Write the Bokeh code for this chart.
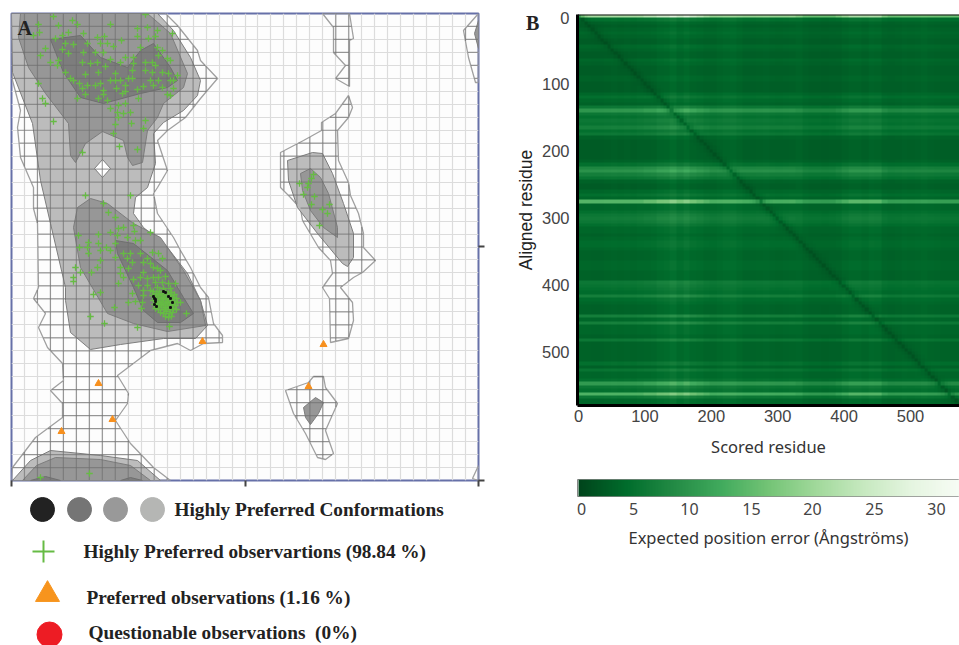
import numpy as np
from bokeh.embed import file_html
from bokeh.resources import INLINE
from bokeh.layouts import row, column
from bokeh.models import Div, FixedTicker, LinearColorMapper, Span, Range1d
from bokeh.palettes import Greens256
from bokeh.plotting import figure
from bokeh.core.properties import value

# ---------- Panel A: contours (plot units, no printed scale) ----------
outer_main = [(165,13),(177,25),(197,50),(200,60),(217,78),(200,98),(185,117),(167,130),(157,140),(167,170),(157,187),(153,193),(157,213),(173,237),(180,250),(190,267),(200,287),(208,297),(213,323),(222,335),(222,342),(203,343),(190,350),(177,343),(150,350),(117,375),(128,393),(127,403),(115,420),(130,443),(153,467),(170,480),(11,480),(12,467),(35,437),(62,417),(62,403),(50,390),(63,380),(62,363),(47,347),(38,327),(45,313),(33,298),(38,287),(37,223),(33,208),(33,187),(20,157),(17,127),(20,110),(12,80),(11,13)]
outer_strip = [(322,13),(333,27),(333,52),(345,65),(335,78),(349,86),(349,40),(353,38),(349,13)]
outer_right = [(348,95),(352,107),(348,117),(337,130),(338,160),(348,182),(350,195),(358,213),(363,233),(363,247),(375,260),(362,272),(353,277),(340,287),(352,302),(353,320),(348,338),(330,342),(329,298),(322,287),(332,273),(330,260),(318,247),(302,220),(300,208),(290,197),(280,187),(280,152),(303,140),(321,130),(321,122),(335,113)]
outer_low = [(285,390),(308,382),(313,376),(323,376),(325,387),(337,403),(325,430),(333,453),(325,459),(317,457),(305,433),(293,413)]
outer_tr = [(478,13),(463,30),(468,57),(475,82),(478,82)]
outer_br = [(478,465),(472,478),(478,480)]
light_main = [(11,13),(157,13),(173,30),(190,57),(200,80),(197,95),(183,110),(163,122),(153,133),(155,163),(147,187),(135,197),(133,213),(143,227),(167,247),(187,273),(200,300),(207,325),(195,338),(163,338),(120,344),(90,349),(70,332),(65,300),(65,287),(50,223),(40,180),(32,123),(12,72)]
hole = [(102,159),(110,168),(102,177),(94,168)]
mid_top = [(20,13),(147,13),(170,33),(187,73),(183,87),(163,103),(157,117),(147,130),(142,162),(132,165),(127,157),(123,140),(102,131),(85,143),(75,162),(70,155),(68,123),(45,93),(28,67),(18,37)]
dark_top = [(50,39),(80,35),(100,57),(127,67),(140,50),(153,43),(170,67),(177,80),(167,87),(140,93),(103,103),(80,97),(63,72)]
mid_center = [(90,198),(107,203),(133,223),(160,237),(183,270),(200,300),(205,325),(167,331),(133,323),(107,313),(80,267),(73,227),(77,207)]
dark_center = [(115,240),(133,243),(167,270),(183,297),(193,313),(180,322),(157,322),(143,310),(133,287),(117,253)]
light_bottom = [(12,480),(30,460),(50,450),(100,455),(137,460),(160,480)]
mid_bottom = [(22,480),(36,465),(55,457),(100,459),(130,465),(150,480)]
dark_bottom = [(30,480),(45,476),(60,480)]
dark_bottom2 = [(120,480),(130,477),(142,480)]
light_right = [(287,160),(312,152),(322,153),(332,173),(343,203),(353,233),(353,257),(347,266),(342,263),(317,233),(297,207),(288,180)]
mid_right = [(300,173),(310,168),(320,177),(328,193),(337,227),(337,237),(323,227),(310,210),(302,190)]
mid_low = [(303,407),(315,397),(323,402),(318,413),(310,424),(305,417)]
mid_tr = [(478,20),(474,33),(478,48)]

green_top = [(53,16),(145,14),(72,20),(77,24),(38,24),(58,25),(110,24),(39,32),(33,35),(137,28),(147,27),(157,30),(172,33),(68,32),(83,33),(62,35),(55,38),(97,37),(104,36),(137,36),(155,36),(148,38),(121,40),(100,43),(107,43),(65,43),(73,44),(87,43),(45,48),(62,49),(113,46),(140,47),(157,47),(95,52),(103,52),(68,53),(83,52),(40,55),(162,50),(125,57),(133,57),(158,55),(167,58),(50,62),(58,60),(82,62),(90,63),(97,62),(110,59),(120,62),(133,63),(145,62),(152,62),(57,65),(105,66),(155,65),(170,60),(65,72),(98,72),(115,73),(132,70),(145,70),(152,72),(162,72),(168,73),(177,75),(85,74),(70,78),(73,80),(110,80),(115,80),(120,80),(128,78),(132,78),(150,80),(158,80),(170,80),(173,80),(38,83),(79,83),(87,85),(95,85),(100,83),(125,85),(153,85),(162,87),(173,88),(82,88),(103,90),(116,88),(125,91),(137,89),(143,86),(85,94),(103,94),(122,93),(167,94),(170,95),(42,98),(77,98),(98,98),(138,98),(45,103),(107,100),(118,105),(125,103),(110,108),(117,112),(130,112),(123,113),(118,117),(53,121),(145,120),(115,124),(131,123),(143,128),(113,133),(119,146),(137,149),(82,152),(85,195),(130,195)]
green_center = [(103,203),(108,212),(115,217),(123,227),(118,228),(133,225),(150,232),(134,231),(110,232),(78,235),(98,234),(117,235),(127,237),(135,240),(140,240),(88,242),(98,243),(115,243),(79,247),(87,247),(106,247),(110,250),(88,253),(100,250),(123,253),(130,253),(140,253),(152,252),(158,253),(115,257),(127,258),(147,258),(162,258),(100,260),(132,262),(143,262),(150,263),(75,267),(97,267),(120,267),(128,268),(80,272),(91,272),(120,273),(143,272),(153,267),(157,268),(160,270),(73,277),(73,281),(123,277),(133,279),(140,277),(147,278),(153,277),(158,277),(165,276),(118,283),(138,285),(147,285),(155,282),(162,282),(168,283),(175,283),(143,290),(150,290),(157,287),(163,288),(170,288),(100,292),(93,294),(132,293),(143,295),(135,301),(128,302),(142,302),(180,302),(114,307),(141,308),(186,313),(90,316),(104,323),(137,327),(169,326),(89,473),(40,477)]
green_dense = [(153,291),(156,293),(159,291),(162,293),(165,291),(168,293),(171,292),(174,294),(152,295),(155,297),(158,295),(161,297),(164,295),(167,297),(170,295),(173,297),(176,298),(153,300),(156,301),(159,299),(162,301),(165,299),(168,301),(171,299),(174,301),(177,302),(154,304),(157,305),(160,303),(163,305),(166,303),(169,305),(172,304),(175,305),(155,308),(158,309),(161,307),(164,309),(167,307),(170,309),(173,308),(176,309),(160,312),(163,313),(166,311),(169,313),(172,312),(165,316),(168,317),(171,316),(158,294),(163,298),(167,302),(161,304),(165,307),(159,302),(170,302),(156,306)]
green_right = [(299,183),(313,174),(311,178),(308,183),(307,187),(303,194),(314,196),(311,204),(329,204),(322,209),(327,213),(319,225)]
black_points = [(154,298),(155,301),(154,304),(156,306),(153,296),(155,299),(163,291),(165,292),(168,296),(170,298),(170,307),(172,302)]
orange_points = [(202,341),(98,383),(112,419),(61,431),(323,344),(308,386)]

# ---------- Panel B: read in profiles ----------
row_values = [22,6,4.5,4,4.5,5,4.5,4,4,5,4.5,4,4,5,4.5,4,4,4,4.5,4.5,4,4,4,5,6,5,4.5,7,11,7,6,7,6.5,8,6,7,4.5,4,4,4,4,4,4,4.5,6,9,10.5,8,6.5,4.5,4,4,5,6,5,15,5,5,6,7,7.5,7,6,5,5,4.5,5,5.5,5.5,5,4.5,4.5,4.5,5,5,5,4.5,4.5,4.5,7,6.5,6,5.5,8,5.5,5,4.5,4.5,4.5,8,5,8,5,5,5,4.5,7,4.5,4.5,4.5,4.5,4.5,4.5,6,4.5,6.5,5,5,6,11.5,7,6,14.5,7,5,5]
col_delta = [.2,.2,.1,.1,.2,.3,.2,.3,.2,.4,.4,.5,.8,1,1.4,.8,1.2,.7,.6,.5,.5,.7,1,1.1,.7,.4,.4,.5,.6,.4,.3,.4,.5,.7,.4,.2,.2,.1,.2,.2,.5,.7,.7,.5,.8,.7,.3,.3,.4,.6,.5,.6,.8,.6,.5,.4,.4,.4]
col_gain = [1,1,1,1,1,1,1,1,1,1,1.1,1.1,1.2,1.2,1.3,1.2,1.3,1.2,1.1,1,.9,.9,.9,.9,.9,.9,.9,.9,.9,.9,.9,.9,.9,.8,.7,.7,.7,.7,.7,.8,.9,1,1,1,1,1,.8,.7,.7,.7,.7,.7,.7,.7,.7,.7,.7,.7]
diag_factor = [.45,.75,.9,.97]
base_error = 2.2
pae_ticks = [0,5,10,15,20,25,30]
pae_nudges = [3,-5,-9,-7,-6,-4,-2]
pae_max = 31.75

def xs(pts): return [p[0] for p in pts]
def ys(pts): return [p[1] for p in pts]

def inside(px, py, poly):
    res = np.zeros(len(px), dtype=bool)
    n = len(poly)
    for i in range(n):
        x0, y0 = poly[i]
        x1, y1 = poly[(i + 1) % n]
        if y0 == y1:
            continue
        cond = (y0 > py) != (y1 > py)
        res ^= cond & (px < (x1 - x0) * (py - y0) / (y1 - y0) + x0)
    return res

grid_pos = 11 + np.arange(37) * 467 / 36
outers = [outer_main, outer_strip, outer_right, outer_low, outer_tr, outer_br]
seg_x, seg_y = [], []
samples = np.arange(13, 480.5, 0.5)
samples_x = np.arange(11, 478.5, 0.5)
for poly in outers:
    for g in grid_pos:
        for vertical in (True, False):
            t = samples if vertical else samples_x
            px = np.full_like(t, g) if vertical else t
            py = t if vertical else np.full_like(t, 13 + (g - 11))
            m = inside(px, py, poly)
            edges = np.flatnonzero(np.diff(np.concatenate(([0], m.astype(int), [0]))))
            for i0, i1 in zip(edges[::2], edges[1::2]):
                seg_x.append([px[i0], px[i1 - 1]])
                seg_y.append([py[i0], py[i1 - 1]])

FRAME = "#6670a8"
a = figure(width=510, height=490, x_range=Range1d(11, 478), y_range=Range1d(480, 13), y_axis_location="right",
           output_backend="svg", toolbar_location=None, min_border_left=11, min_border_right=32,
           min_border_top=13, min_border_bottom=10)
a.outline_line_color = FRAME
a.outline_line_width = 2
a.background_fill_color = "#fdfdfd"
for ax, ticks in ((a.xaxis[0], [11, 244.5, 478]), (a.yaxis[0], [246, 480])):
    ax.ticker = FixedTicker(ticks=ticks)
    ax.major_label_overrides = {t: "" for t in ticks}
    ax.major_label_standoff = 0
    ax.axis_line_color = None
    ax.major_tick_line_color = "#444444"
    ax.major_tick_line_width = 2
    ax.major_tick_in = 0
    ax.major_tick_out = 6
    ax.minor_tick_line_color = None
a.xgrid.ticker = FixedTicker(ticks=list(grid_pos))
a.ygrid.ticker = FixedTicker(ticks=list(13 + grid_pos - 11))
a.xgrid.grid_line_color = "#dcdcdc"
a.ygrid.grid_line_color = "#dcdcdc"
a.xgrid.grid_line_width = 1.2
a.ygrid.grid_line_width = 1.2

OUT = "#a0a0a0"
for poly in outers:
    a.patch(xs(poly), ys(poly), fill_color=None, line_color=OUT, line_width=1.3)
LIGHT, MID, DARK = "#bcbcbc", "#979797", "#7d7d7d"
EDGE = "#7d7d7d"
for poly in (light_main, light_bottom, light_right):
    a.patch(xs(poly), ys(poly), fill_color=LIGHT, line_color=EDGE, line_width=1)
a.patch(xs(hole), ys(hole), fill_color="#ffffff", line_color=EDGE, line_width=1)
for poly in (mid_top, mid_center, mid_bottom, mid_right, mid_low, mid_tr):
    a.patch(xs(poly), ys(poly), fill_color=MID, line_color=EDGE, line_width=1)
for poly in (dark_top, dark_center, dark_bottom, dark_bottom2):
    a.patch(xs(poly), ys(poly), fill_color=DARK, line_color="#6f6f6f", line_width=1)
a.multi_line(seg_x, seg_y, line_color="#6e6e6e", line_alpha=0.65, line_width=1.2)
green = green_top + green_center + green_dense + green_right
a.scatter(xs(green), ys(green), marker="cross", size=6.5, line_color="#66bb44", line_width=1.3, fill_color=None)
a.scatter(xs(black_points), ys(black_points), marker="square", size=1.8, color="#111111")
a.scatter(xs(orange_points), ys(orange_points), marker="triangle", size=7, color="#f7901e")
a.text([17], [27], text=["A"], text_font=value("Liberation Serif"), text_font_style="bold",
       text_font_size="20px", text_baseline="middle", text_color="#222222")

# ---------- legend below panel A (frame lines up with panel A's frame) ----------
leg = figure(width=510, height=155, x_range=Range1d(11, 478), y_range=Range1d(645, 490),
             output_backend="svg", toolbar_location=None, min_border=0, x_axis_location=None, y_axis_location=None)
leg.grid.visible = False
leg.outline_line_color = None
leg.scatter([42, 79, 115, 152], [509] * 4, size=24, color=["#222222", "#757575", "#999999", "#b5b6b4"])
leg.scatter([43], [551], marker="cross", size=22, line_color="#66bb44", line_width=2, fill_color=None)
leg.scatter([47], [594], marker="triangle", size=24, color="#f7941d")
leg.scatter([49], [634], size=25, color="#ed1c24")
legend_labels = ["Highly Preferred Conformations", "Highly Preferred observartions (98.84 %)",
                 "Preferred observations (1.16 %)", "Questionable observations \u00a0(0%)"]
leg.text([174, 83, 86, 88], [509, 551, 597, 632], text=legend_labels, text_font=value("Liberation Serif"),
         text_font_style="bold", text_font_size="19.3px", text_baseline="middle", text_color="#222222")

# ---------- Panel B ----------
row_arr = np.array(row_values, dtype=float)
delta = np.repeat(col_delta, 2)
gain = np.repeat(col_gain, 2)
pae = base_error + delta[None, :] + (row_arr[:, None] - 4) * gain[None, :]
dist = np.abs(np.arange(116)[:, None] - np.arange(116)[None, :])
for d, f in enumerate(diag_factor):
    pae[dist == d] *= f
mapper = LinearColorMapper(palette=Greens256, low=0, high=pae_max)

b = figure(width=449, height=470, x_range=Range1d(-1.5, 573.8), y_range=Range1d(580.5, -4.5),
           output_backend="svg", toolbar_location=None, min_border_left=67, min_border_right=0,
           min_border_top=14, min_border_bottom=65)
b.image(image=[pae], x=-1.5, y=-4.5, dw=577, dh=585, color_mapper=mapper)
b.grid.visible = False
b.outline_line_color = None
b.add_layout(Span(location=-4.5, dimension="width", line_color="#111111", line_width=2))
for ax in (b.xaxis[0], b.yaxis[0]):
    ax.ticker = FixedTicker(ticks=[0, 100, 200, 300, 400, 500])
    ax.axis_line_color = "#000000"
    ax.axis_line_width = 3
    ax.major_tick_line_color = None
    ax.minor_tick_line_color = None
    ax.major_label_text_font = "Liberation Sans"
    ax.major_label_text_font_size = "16.5px"
    ax.major_label_text_color = "#444444"
    ax.axis_label_text_font_style = "normal"
    ax.axis_label_text_color = "#333333"
b.xaxis[0].major_label_standoff = -2
b.yaxis[0].major_label_standoff = 2
b.xaxis[0].axis_label = "Scored residue"
b.xaxis[0].axis_label_text_font = "Noto Sans"
b.xaxis[0].axis_label_text_font_size = "16.5px"
b.xaxis[0].axis_label_standoff = 10
b.yaxis[0].axis_label = "Aligned residue"
b.yaxis[0].axis_label_text_font = "Liberation Sans"
b.yaxis[0].axis_label_text_font_size = "17.5px"
b.yaxis[0].axis_label_text_color = "#222222"
b.yaxis[0].axis_label_standoff = 3

# ---------- colour bar (frame lines up with panel B's frame) ----------
c = figure(width=449, height=90, x_range=Range1d(-1 / 12, pae_max), y_range=Range1d(0, 1),
           output_backend="svg", toolbar_location=None, min_border_left=67, min_border_right=0,
           min_border_top=9, min_border_bottom=64, y_axis_location=None)
c.grid.visible = False
c.image(image=[np.linspace(0, pae_max, 256)[None, :]], x=0, y=0, dw=pae_max, dh=1, color_mapper=mapper)
c.outline_line_color = "#888888"
c.outline_line_width = 1
# printed labels sit a few pixels off their true positions on this colour bar
label_at = [t + n / 12 for t, n in zip(pae_ticks, pae_nudges)]
cx = c.xaxis[0]
cx.ticker = FixedTicker(ticks=label_at)
cx.major_label_overrides = {p: str(t) for p, t in zip(label_at, pae_ticks)}
cx.axis_line_color = None
cx.major_tick_line_color = None
cx.minor_tick_line_color = None
cx.major_label_text_font = "Noto Sans"
cx.major_label_text_font_size = "16px"
cx.major_label_text_color = "#444444"
cx.major_label_standoff = 0
cx.axis_label = "Expected position error (Ångströms)"
cx.axis_label_text_font = "Noto Sans"
cx.axis_label_text_font_style = "normal"
cx.axis_label_text_font_size = "16.5px"
cx.axis_label_text_color = "#333333"
cx.axis_label_standoff = 8

# panel letter: zero-width Div laid over panel B's left margin
tag = Div(text="B", width=0, height=0, margin=(0, 0, 0, 0),
          styles={"position": "relative", "left": "16px", "top": "9px", "z-index": "10", "overflow": "visible",
                  "white-space": "nowrap", "font-family": "Liberation Serif", "font-weight": "bold",
                  "font-size": "20px", "color": "#222222"})

page = row(column(a, leg), tag, column(b, c))
open("out.html", "w").write(file_html(page, INLINE))
